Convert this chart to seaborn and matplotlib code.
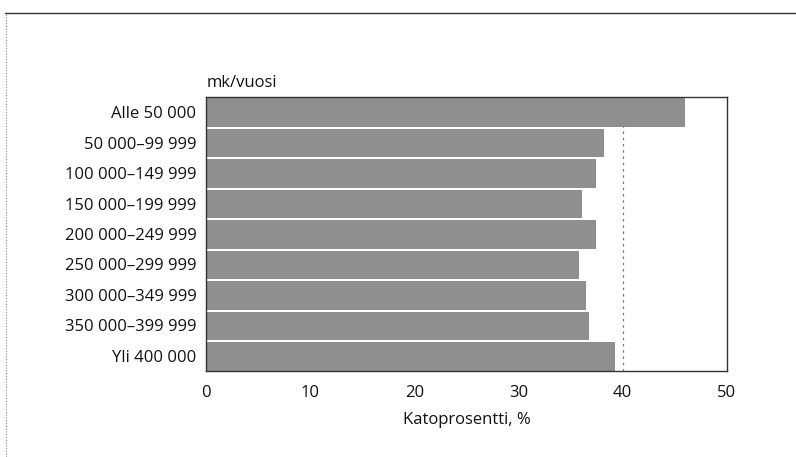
import matplotlib
matplotlib.use("Agg")
import matplotlib.pyplot as plt
import seaborn as sns
import pandas as pd
from matplotlib.lines import Line2D

categories = ["Alle 50 000", "50 000–99 999", "100 000–149 999", "150 000–199 999",
              "200 000–249 999", "250 000–299 999", "300 000–349 999",
              "350 000–399 999", "Yli 400 000"]
values = [45.9, 38.1, 37.3, 36.0, 37.3, 35.7, 36.4, 36.7, 39.2]
xticks = [0, 10, 20, 30, 40, 50]

df = pd.DataFrame({"cat": categories, "val": values})

sns.set_theme(style="white")
plt.rcParams['font.family'] = ['Open Sans', 'DejaVu Sans']
fs = 12

fig = plt.figure(figsize=(7.96, 4.57), dpi=100)
ax = fig.add_axes([0.259, 0.188, 0.654, 0.600])

sns.barplot(data=df, x="val", y="cat", color="#8f8f8f", saturation=1,
            width=0.9, edgecolor="#767676", linewidth=0.5, ax=ax)

ax.axvline(40, color="#777777", linestyle=(0, (2, 3)), linewidth=0.9, zorder=0)

ax.set_xlim(0, 50)
ax.set_xticks(xticks)
ax.set_xticklabels([str(t) for t in xticks])
ax.set_xlabel("Katoprosentti, %", fontsize=fs, color="#111111", labelpad=8)
ax.set_ylabel("")
ax.tick_params(axis="both", length=0, labelsize=fs, colors="#111111")
ax.tick_params(axis="x", pad=10)
ax.tick_params(axis="y", pad=7)
for s in ax.spines.values():
    s.set_visible(True)
    s.set_color("#333333")
    s.set_linewidth(1.0)

ax.text(0.0, 1.02, "mk/vuosi", transform=ax.transAxes, ha="left", va="bottom",
        fontsize=fs, color="#111111")

# scan border lines
fig.add_artist(Line2D([0.006, 1.0], [0.972, 0.972], transform=fig.transFigure,
                      color="#333333", linewidth=1.0))
fig.add_artist(Line2D([0.008, 0.008], [0.0, 0.972], transform=fig.transFigure,
                      color="#888888", linewidth=0.8, linestyle=(0, (1, 1.5))))

fig.savefig("out.png", dpi=100)
